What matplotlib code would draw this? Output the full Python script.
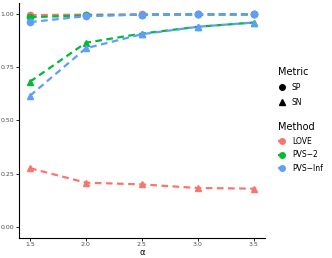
import matplotlib
matplotlib.use("Agg")
import matplotlib.pyplot as plt
from matplotlib.lines import Line2D

# alpha values on x axis
alpha = [1.5, 2.0, 2.5, 3.0, 3.5]

methods = ["LOVE", "PVS\u22122", "PVS\u2212Inf"]
colors = ["#F8766D", "#00BA38", "#619CFF"]

# specificity (SP)
sp = {
    "LOVE": [0.995, 0.997, 0.998, 0.998, 0.998],
    "PVS\u22122": [0.985, 0.993, 0.997, 0.998, 0.998],
    "PVS\u2212Inf": [0.962, 0.990, 0.997, 0.998, 0.998],
}
# sensitivity (SN)
sn = {
    "LOVE": [0.276, 0.208, 0.200, 0.183, 0.180],
    "PVS\u22122": [0.682, 0.865, 0.908, 0.940, 0.960],
    "PVS\u2212Inf": [0.616, 0.839, 0.905, 0.940, 0.960],
}

fig = plt.figure(figsize=(3.32, 2.58), dpi=100)
ax = fig.add_axes([0.0566, 0.079, 0.741, 0.908])

for m, c in zip(methods, colors):
    ax.plot(alpha, sp[m], color=c, ls=(0, (3, 2)), lw=1.6, marker="o", ms=4.5, dash_capstyle="butt")
    ax.plot(alpha, sn[m], color=c, ls=(0, (3, 2)), lw=1.6, marker="^", ms=5, dash_capstyle="butt")

ax.set_xlim(1.4, 3.6)
ax.set_ylim(-0.05, 1.05)
ax.set_xticks([1.5, 2.0, 2.5, 3.0, 3.5])
ax.set_xticklabels(["1.5", "2.0", "2.5", "3.0", "3.5"])
ax.set_yticks([0, 0.25, 0.5, 0.75, 1.0])
ax.set_yticklabels(["0.00", "0.25", "0.50", "0.75", "1.00"])
ax.tick_params(labelsize=4.5, labelcolor="#4D4D4D", length=2, width=0.6, pad=1.5)
ax.set_xlabel("\u03b1", fontsize=6, labelpad=0.5)
for s in ["top", "right"]:
    ax.spines[s].set_visible(False)
for s in ["left", "bottom"]:
    ax.spines[s].set_linewidth(0.8)

metric_handles = [
    Line2D([], [], color="black", marker="o", ls="none", ms=4),
    Line2D([], [], color="black", marker="^", ls="none", ms=4.5),
]
leg1 = fig.legend(metric_handles, ["SP", "SN"], title="Metric", loc="upper left",
                  bbox_to_anchor=(275 / 332, 1 - 64 / 258), frameon=False,
                  fontsize=5.5, title_fontsize=7, handlelength=1.0, handletextpad=0.8,
                  labelspacing=0.75, alignment="left", borderaxespad=0)

method_handles = [
    Line2D([], [], color=c, marker="o", ls=(0, (2, 1.5)), lw=1.6, ms=4) for c in colors
]
leg2 = fig.legend(method_handles, methods, title="Method", loc="upper left",
                  bbox_to_anchor=(275 / 332, 1 - 119 / 258), frameon=False,
                  fontsize=5.5, title_fontsize=7, handlelength=1.0, handletextpad=0.8,
                  labelspacing=0.6, alignment="left", borderaxespad=0)

fig.savefig("out.png", dpi=100)
